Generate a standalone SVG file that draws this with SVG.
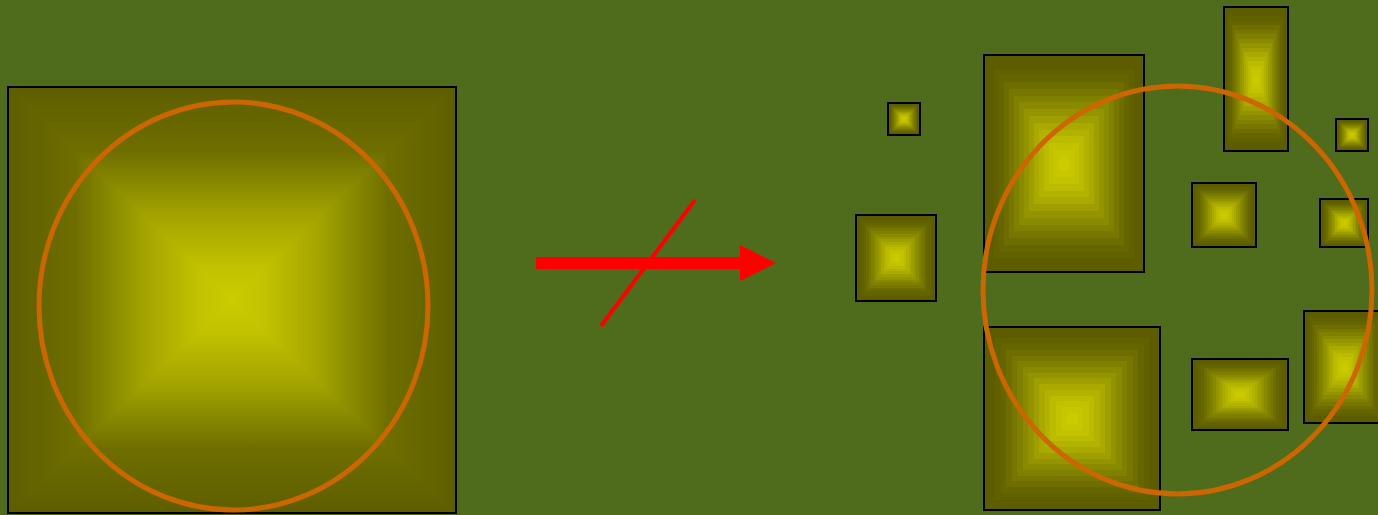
<svg xmlns="http://www.w3.org/2000/svg" xmlns:xlink="http://www.w3.org/1999/xlink" width="1378" height="515" viewBox="0 0 1378 515">
<style>
.frame{fill:none;stroke:#000;stroke-width:2}
.ring{fill:none;stroke:#cc6600;stroke-width:5}
.red{fill:#ff0000}
</style>
<defs>
<g id="steps" shape-rendering="crispEdges">
<rect x="0" y="0" width="32" height="32" fill="#5c5c00"/>
<rect x="1" y="1" width="30" height="30" fill="#5d5d00"/>
<rect x="2" y="2" width="28" height="28" fill="#616100"/>
<rect x="3" y="3" width="26" height="26" fill="#666600"/>
<rect x="4" y="4" width="24" height="24" fill="#6d6d00"/>
<rect x="5" y="5" width="22" height="22" fill="#767600"/>
<rect x="6" y="6" width="20" height="20" fill="#7f7f00"/>
<rect x="7" y="7" width="18" height="18" fill="#8a8a00"/>
<rect x="8" y="8" width="16" height="16" fill="#949400"/>
<rect x="9" y="9" width="14" height="14" fill="#9e9e00"/>
<rect x="10" y="10" width="12" height="12" fill="#a9a900"/>
<rect x="11" y="11" width="10" height="10" fill="#b2b200"/>
<rect x="12" y="12" width="8" height="8" fill="#bbbb00"/>
<rect x="13" y="13" width="6" height="6" fill="#c2c200"/>
<rect x="14" y="14" width="4" height="4" fill="#c7c700"/>
<rect x="15" y="15" width="2" height="2" fill="#cbcb00"/>
</g>
<linearGradient id="gT" gradientUnits="userSpaceOnUse" x1="0" y1="87" x2="0" y2="300">
<stop offset="0" stop-color="#5e5e00"/><stop offset="0.3" stop-color="#6e6e00"/><stop offset="0.6" stop-color="#a2a200"/><stop offset="0.85" stop-color="#c2c200"/><stop offset="1" stop-color="#cccc00"/>
</linearGradient>
<linearGradient id="gB" gradientUnits="userSpaceOnUse" x1="0" y1="513" x2="0" y2="300">
<stop offset="0" stop-color="#5e5e00"/><stop offset="0.3" stop-color="#6e6e00"/><stop offset="0.6" stop-color="#a2a200"/><stop offset="0.85" stop-color="#c2c200"/><stop offset="1" stop-color="#cccc00"/>
</linearGradient>
<linearGradient id="gL" gradientUnits="userSpaceOnUse" x1="8" y1="0" x2="232" y2="0">
<stop offset="0" stop-color="#5e5e00"/><stop offset="0.3" stop-color="#6e6e00"/><stop offset="0.6" stop-color="#a2a200"/><stop offset="0.85" stop-color="#c2c200"/><stop offset="1" stop-color="#cccc00"/>
</linearGradient>
<linearGradient id="gR" gradientUnits="userSpaceOnUse" x1="456" y1="0" x2="232" y2="0">
<stop offset="0" stop-color="#5e5e00"/><stop offset="0.3" stop-color="#6e6e00"/><stop offset="0.6" stop-color="#a2a200"/><stop offset="0.85" stop-color="#c2c200"/><stop offset="1" stop-color="#cccc00"/>
</linearGradient>
</defs>
<rect width="1378" height="515" fill="#4f6b1c"/>
<g id="big-square">
<rect x="8" y="87" width="448" height="426" fill="#8a8a00"/>
<polygon points="8,87 456,87 232,300" fill="url(#gT)" stroke="url(#gT)" stroke-width="1.5"/>
<polygon points="8,513 456,513 232,300" fill="url(#gB)" stroke="url(#gB)" stroke-width="1.5"/>
<polygon points="8,87 8,513 232,300" fill="url(#gL)" stroke="url(#gL)" stroke-width="1.5"/>
<polygon points="456,87 456,513 232,300" fill="url(#gR)" stroke="url(#gR)" stroke-width="1.5"/>
<rect class="frame" x="8" y="87" width="448" height="426"/>
</g>
<g id="left-circle"><ellipse class="ring" cx="233.5" cy="306" rx="194.5" ry="204"/></g>
<g id="arrow">
<rect class="red" x="536" y="257" width="206" height="12"/>
<polygon class="red" points="740,245 776,263 740,281"/>
<line x1="601" y1="326" x2="695" y2="200" stroke="#ff0000" stroke-width="4"/>
</g>
<g id="box1"><use xlink:href="#steps" transform="translate(888,103) scale(1,1)"/><rect class="frame" x="888" y="103" width="32" height="32"/></g>
<g id="box2"><use xlink:href="#steps" transform="translate(856,215) scale(2.5,2.6875)"/><rect class="frame" x="856" y="215" width="80" height="86"/></g>
<g id="box3"><use xlink:href="#steps" transform="translate(984,55) scale(5,6.78125)"/><rect class="frame" x="984" y="55" width="160" height="217"/></g>
<g id="box4"><use xlink:href="#steps" transform="translate(1224,7) scale(2,4.5)"/><rect class="frame" x="1224" y="7" width="64" height="144"/></g>
<g id="box5"><use xlink:href="#steps" transform="translate(1336,119) scale(1,1)"/><rect class="frame" x="1336" y="119" width="32" height="32"/></g>
<g id="box6"><use xlink:href="#steps" transform="translate(1192,183) scale(2,2)"/><rect class="frame" x="1192" y="183" width="64" height="64"/></g>
<g id="box7"><use xlink:href="#steps" transform="translate(1320,199) scale(1.5,1.5)"/><rect class="frame" x="1320" y="199" width="48" height="48"/></g>
<g id="box8"><use xlink:href="#steps" transform="translate(984,327) scale(5.5,5.71875)"/><rect class="frame" x="984" y="327" width="176" height="183"/></g>
<g id="box9"><use xlink:href="#steps" transform="translate(1192,359) scale(3,2.21875)"/><rect class="frame" x="1192" y="359" width="96" height="71"/></g>
<g id="box10"><use xlink:href="#steps" transform="translate(1304,311) scale(2.5,3.5)"/><rect class="frame" x="1304" y="311" width="80" height="112"/></g>
<g id="right-circle"><ellipse class="ring" cx="1177.5" cy="290" rx="194.5" ry="204"/></g>
</svg>
